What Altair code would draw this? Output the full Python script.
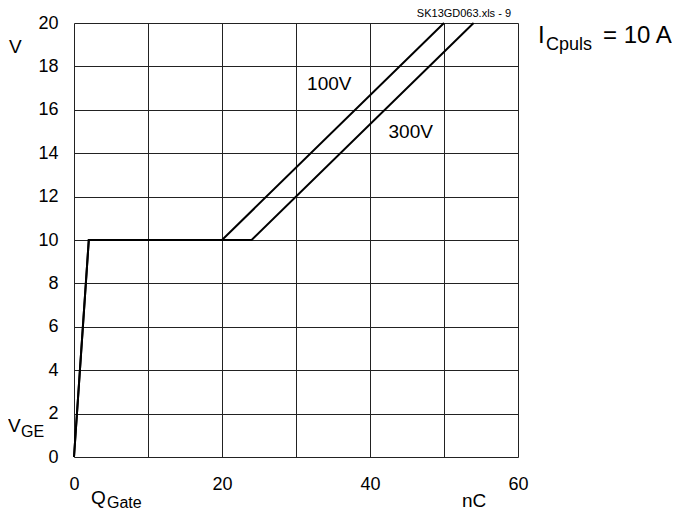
import altair as alt
import pandas as pd

# data
q_100 = [0, 2, 20, 50]
v_100 = [0, 10, 10, 20]
q_300 = [0, 2, 24, 54]
v_300 = [0, 10, 10, 20]
series_labels = ["100V", "300V"]
label_x = [34.5, 45.5]
label_y = [17.2, 15.0]
x_ticks = [0, 10, 20, 30, 40, 50, 60]
y_ticks = [0, 2, 4, 6, 8, 10, 12, 14, 16, 18, 20]

rows = []
for i, (q, v) in enumerate(zip(q_100, v_100)):
    rows.append({"q": q, "v": v, "s": "100V", "o": i})
for i, (q, v) in enumerate(zip(q_300, v_300)):
    rows.append({"q": q, "v": v, "s": "300V", "o": i})
df = pd.DataFrame(rows)
lab = pd.DataFrame({"t": series_labels, "x": label_x, "y": label_y})

W, H = 444, 434
FONT = "Liberation Sans"

xs = alt.Scale(domain=[0, 60], nice=False, zero=False)
ys = alt.Scale(domain=[0, 20], nice=False, zero=False)

lines = alt.Chart(df).mark_line(strokeWidth=2, color="black").encode(
    x=alt.X("q:Q", scale=xs, title=None,
            axis=alt.Axis(values=x_ticks, labelExpr="datum.value % 20 == 0 ? datum.label : ''",
                          ticks=False, domain=False, grid=True, gridColor="#222", gridWidth=1,
                          labelFlush=False, labelFont=FONT, labelFontSize=18, labelColor="black",
                          labelPadding=18)),
    y=alt.Y("v:Q", scale=ys, title=None,
            axis=alt.Axis(values=y_ticks, ticks=False, domain=False, grid=True, gridColor="#222",
                          gridWidth=1, labelFlush=False, labelFont=FONT, labelFontSize=18,
                          labelColor="black", labelPadding=16)),
    detail="s:N",
    order="o:Q",
)

labels = alt.Chart(lab).mark_text(font=FONT, fontSize=19, color="black").encode(
    x=alt.X("x:Q", scale=xs), y=alt.Y("y:Q", scale=ys), text="t:N"
)

def txt(s, px, py, size=16, align="left", baseline="alphabetic"):
    return alt.Chart(pd.DataFrame({"t": [s]})).mark_text(
        font=FONT, fontSize=size, color="black", align=align, baseline=baseline
    ).encode(x=alt.value(px), y=alt.value(py), text="t:N")

ox, oy = 74, 23
ann = [
    txt("SK13GD063.xls - 9", 511 - ox, 17 - oy, size=11, align="right"),
    txt("I", 538 - ox, 43 - oy, size=24),
    txt("Cpuls", 546 - ox, 50 - oy, size=18),
    txt("= 10 A", 603 - ox, 43 - oy, size=24),
    txt("V", 9 - ox, 53 - oy, size=19),
    txt("V", 8 - ox, 432 - oy, size=19),
    txt("GE", 21 - ox, 437 - oy, size=16),
    txt("Q", 91 - ox, 504 - oy, size=19),
    txt("Gate", 107 - ox, 508 - oy, size=16),
    txt("nC", 462 - ox, 507 - oy, size=19),
]

chart = alt.layer(lines, labels, *ann).properties(
    width=W, height=H,
    autosize=alt.AutoSizeParams(type="none"),
    padding={"left": ox - 8, "top": oy - 8, "right": 680 - 16 - (ox - 8) - W, "bottom": 521 - 16 - (oy - 8) - H},
).configure_view(stroke="black", strokeWidth=2).configure(background="white")

chart.save("out.html", embed_options={"renderer": "svg", "actions": False})
